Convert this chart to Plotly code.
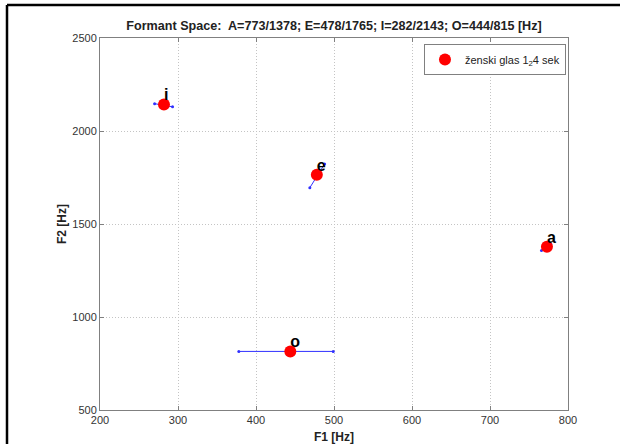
import plotly.graph_objects as go

# Vowel formant data
vowels = ["a", "e", "i", "o"]
f1 = [773, 478, 282, 444]
f2 = [1378, 1765, 2143, 815]

# Blue trajectory segments (start/end) per vowel
seg_f1_start = [766, 469, 270, 378]
seg_f2_start = [1357, 1695, 2147, 815]
seg_f1_end = [778, 488, 293, 499]
seg_f2_end = [1392, 1823, 2130, 815]

x_ticks = [200, 300, 400, 500, 600, 700, 800]
y_ticks = [500, 1000, 1500, 2000, 2500]

title_text = "Formant Space:  A=773/1378; E=478/1765; I=282/2143; O=444/815 [Hz]"
legend_name = "ženski glas 1<sub>2</sub>4 sek"

FONT = "Liberation Sans, Arial, sans-serif"

fig = go.Figure()

for i in range(len(vowels)):
    fig.add_trace(go.Scatter(
        x=[seg_f1_start[i], seg_f1_end[i]],
        y=[seg_f2_start[i], seg_f2_end[i]],
        mode="lines+markers",
        line=dict(color="#3030ff", width=1),
        marker=dict(color="#3030ff", size=3),
        showlegend=False, hoverinfo="skip",
    ))

fig.add_trace(go.Scatter(
    x=f1, y=f2, mode="markers",
    marker=dict(color="#ff0000", size=12, line=dict(width=0)),
    name=legend_name, showlegend=True,
))

fig.add_trace(go.Scatter(
    x=f1, y=f2, mode="text", text=vowels,
    textposition="top right",
    textfont=dict(family=FONT, size=16, color="black", weight="bold"),
    showlegend=False, hoverinfo="skip",
))

W, H = 620, 444
L, T = 100, 38
R, B = 52, 34
pw, ph = W - L - R, H - T - B

axis_common = dict(
    showgrid=True, gridcolor="#c4c4c4", griddash="1px,2px", gridwidth=1,
    showline=True, linecolor="#808080", linewidth=1, mirror="ticks",
    ticks="inside", ticklen=4, tickcolor="#808080",
    zeroline=False,
    tickfont=dict(family=FONT, size=11, color="#333333"),
)

fig.update_layout(
    width=W, height=H,
    margin=dict(l=L, r=R, t=T, b=B, autoexpand=False),
    paper_bgcolor="white", plot_bgcolor="white",
    title=dict(text="<b>" + title_text + "</b>", x=(L + pw / 2) / W, xanchor="center",
               y=1 - 26 / H, yanchor="middle",
               font=dict(family=FONT, size=12.6, color="#222222")),
    xaxis=dict(range=[200, 800], tickvals=x_ticks,
               title=dict(text="<b>F1 [Hz]</b>", standoff=7,
                          font=dict(family=FONT, size=12, color="#222222")),
               **axis_common),
    yaxis=dict(range=[500, 2500], tickvals=y_ticks,
               title=dict(text="<b>F2 [Hz]</b>", standoff=3,
                          font=dict(family=FONT, size=12, color="#222222")),
               **axis_common),
    legend=dict(x=0.9957, y=0.984, xanchor="right", yanchor="top",
                bgcolor="white", bordercolor="#808080", borderwidth=1,
                font=dict(family=FONT, size=11, color="#222222"),
                itemwidth=30),
    showlegend=True,
)

# outer black frame (left and top edges)
fx0 = (7 - L) / pw
fy1 = 1 + (T - 5) / ph
fig.add_shape(type="line", xref="paper", yref="paper",
              x0=fx0, x1=fx0, y0=-(B + 20) / ph, y1=fy1,
              line=dict(color="black", width=2.5), layer="above")
fig.add_shape(type="line", xref="paper", yref="paper",
              x0=fx0, x1=1 + (R + 20) / pw, y0=fy1, y1=fy1,
              line=dict(color="black", width=2.5), layer="above")

fig.write_html(
    "out.html",
    config={"displayModeBar": False},
    post_script="document.body.style.margin='0px';document.body.style.overflow='hidden';",
)
